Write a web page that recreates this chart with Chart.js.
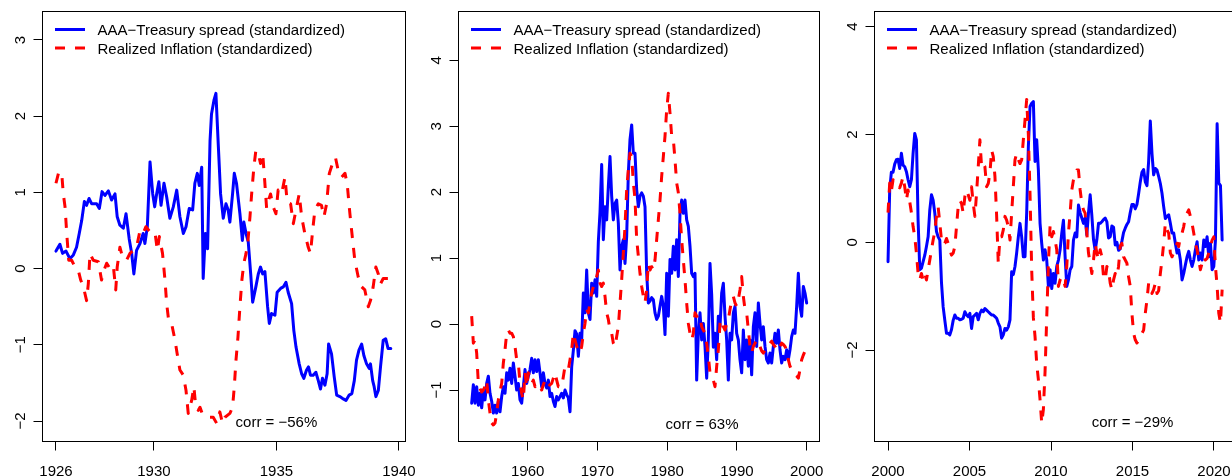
<!DOCTYPE html>
<html>
<head>
<meta charset="utf-8">
<script src="https://cdn.jsdelivr.net/npm/chart.js@4.4.1/dist/chart.umd.min.js"></script>
<style>
  html, body { margin: 0; padding: 0; background: #fff; }
  body { width: 1232px; height: 476px; overflow: hidden; position: relative; }
  canvas { position: absolute; top: 0; }
</style>
</head>
<body>
<canvas id="p1" width="415" height="476" style="left:0px"></canvas>
<canvas id="p2" width="410" height="476" style="left:415px"></canvas>
<canvas id="p3" width="420" height="476" style="left:825px"></canvas>
<script>
// ===================== DATA =====================
const legendLabels = ["AAA\u2212Treasury spread (standardized)", "Realized Inflation (standardized)"];

// ---- 1926–1939 ----
const spreadYears1 = [
  1926.00,1926.16,1926.27,1926.41,1926.57,1926.71,1926.84,1926.95,1927.05,1927.16,
  1927.25,1927.35,1927.46,1927.66,1927.77,1927.88,1928.00,1928.14,1928.27,1928.41,
  1928.50,1928.61,1928.75,1928.86,1928.99,1929.09,1929.18,1929.29,1929.43,1929.56,
  1929.63,1929.73,1929.84,1929.95,1930.03,1930.11,1930.20,1930.29,1930.41,1930.52,
  1930.65,1930.79,1930.93,1931.06,1931.20,1931.31,1931.44,1931.58,1931.67,1931.77,
  1931.85,1931.95,1932.01,1932.10,1932.19,1932.29,1932.35,1932.45,1932.53,1932.63,
  1932.72,1932.83,1932.94,1933.03,1933.10,1933.21,1933.28,1933.37,1933.51,1933.61,
  1933.67,1933.76,1933.85,1933.95,1934.03,1934.16,1934.26,1934.35,1934.44,1934.53,
  1934.64,1934.71,1934.80,1934.94,1935.03,1935.17,1935.28,1935.39,1935.48,1935.62,
  1935.71,1935.80,1935.93,1936.03,1936.12,1936.23,1936.31,1936.39,1936.50,1936.61,
  1936.71,1936.80,1936.88,1936.98,1937.07,1937.13,1937.25,1937.36,1937.46,1937.59,
  1937.73,1937.84,1937.97,1938.08,1938.18,1938.27,1938.37,1938.48,1938.57,1938.68,
  1938.79,1938.84,1938.93,1938.99,1939.06,1939.16,1939.25,1939.36,1939.46,1939.56,
  1939.67
];
const spread1 = [
  0.23,0.32,0.20,0.23,0.13,0.18,0.28,0.46,0.63,0.88,
  0.83,0.92,0.85,0.85,0.79,1.01,0.96,1.02,0.90,0.98,
  0.68,0.57,0.53,0.72,0.39,0.20,-0.07,0.24,0.33,0.46,
  0.33,0.55,1.40,0.98,0.81,0.98,1.14,0.83,1.12,0.94,
  0.66,0.81,1.03,0.68,0.46,0.55,0.79,0.77,1.12,1.25,
  1.09,1.33,-0.13,0.46,0.26,1.68,2.03,2.21,2.30,1.60,
  0.98,0.66,0.85,0.77,0.61,0.98,1.25,1.12,0.72,0.37,
  0.61,0.46,0.35,-0.07,-0.44,-0.24,-0.07,0.02,-0.07,-0.04,
  -0.50,-0.72,-0.59,-0.61,-0.31,-0.26,-0.24,-0.18,-0.31,-0.46,
  -0.81,-1.03,-1.25,-1.38,-1.44,-1.33,-1.29,-1.40,-1.40,-1.36,
  -1.47,-1.58,-1.44,-1.53,-1.38,-0.99,-1.12,-1.42,-1.66,-1.68,
  -1.71,-1.73,-1.66,-1.64,-1.47,-1.20,-1.07,-0.99,-1.14,-1.25,
  -1.31,-1.25,-1.47,-1.55,-1.68,-1.60,-1.29,-0.94,-0.92,-1.05,
  -1.05
];
const inflYears1 = [
  1926.00,1926.10,1926.23,1926.30,1926.37,1926.44,1926.52,1926.64,1926.78,1926.91,
  1927.01,1927.12,1927.25,1927.32,1927.39,1927.52,1927.73,1927.86,1927.96,1928.07,
  1928.20,1928.34,1928.44,1928.50,1928.61,1928.72,1928.88,1929.02,1929.16,1929.29,
  1929.43,1929.56,1929.67,1929.84,1930.04,1930.14,1930.22,1930.35,1930.45,1930.52,
  1930.60,1930.72,1930.86,1930.95,1931.06,1931.20,1931.31,1931.40,1931.54,1931.63,
  1931.71,1931.81,1931.88,1931.97,1932.08,1932.22,1932.42,1932.56,1932.69,1932.80,
  1932.90,1933.10,1933.21,1933.28,1933.35,1933.43,1933.51,1933.59,1933.67,1933.76,
  1933.84,1933.92,1934.00,1934.08,1934.16,1934.26,1934.35,1934.44,1934.52,1934.60,
  1934.68,1934.76,1934.87,1934.98,1935.07,1935.21,1935.35,1935.44,1935.58,1935.69,
  1935.80,1935.93,1936.03,1936.16,1936.30,1936.39,1936.48,1936.57,1936.71,1936.84,
  1936.94,1937.05,1937.16,1937.29,1937.41,1937.52,1937.66,1937.80,1937.89,1938.00,
  1938.10,1938.20,1938.34,1938.48,1938.61,1938.75,1938.84,1938.95,1939.06,1939.16,
  1939.25,1939.36,1939.50,1939.67
];
const infl1 = [
  1.12,1.25,1.27,0.98,0.81,0.46,0.11,0.11,0.02,-0.02,
  -0.15,-0.24,-0.42,-0.20,0.20,0.11,0.09,-0.15,-0.02,0.07,
  0.00,0.04,-0.28,0.02,0.28,0.15,0.11,0.20,0.24,0.28,
  0.50,0.46,0.55,0.48,0.48,0.24,0.42,0.20,-0.15,-0.46,
  -0.68,-0.72,-0.94,-1.12,-1.33,-1.40,-1.60,-1.90,-1.73,-1.55,
  -1.82,-1.86,-1.82,-1.90,-1.93,-1.95,-1.95,-2.03,-1.88,-2.03,
  -1.95,-1.90,-1.82,-1.55,-1.20,-0.90,-0.50,-0.15,0.07,0.20,
  0.37,0.68,1.03,1.33,1.55,1.51,1.38,1.51,1.16,0.79,
  0.90,0.98,0.81,0.72,1.03,0.98,1.20,0.87,0.85,0.59,
  0.77,0.98,0.68,0.46,0.28,0.20,0.50,0.77,0.85,0.83,
  0.68,0.85,1.25,1.38,1.46,1.29,1.20,1.25,1.11,0.72,
  0.41,0.11,-0.11,-0.24,-0.28,-0.50,-0.42,-0.24,0.02,-0.07,
  -0.20,-0.13,-0.13,-0.13
];

// ---- 1952–2000 (evenly spaced readings) ----
const span2 = [1951.97, 2000.0];
const spread2 = [
  -1.20,-0.92,-1.20,-0.95,-1.23,-1.05,-1.27,-1.00,-1.15,-0.90,
  -0.79,-1.05,-1.17,-1.35,-1.23,-1.35,-1.17,-1.33,-1.10,-0.95,
  -1.05,-0.74,-0.85,-0.67,-0.90,-0.59,-0.79,-1.00,-0.90,-1.15,
  -1.20,-0.95,-0.69,-0.90,-0.79,-0.69,-0.52,-0.74,-0.54,-0.72,
  -0.54,-0.74,-0.95,-0.74,-0.90,-0.97,-0.85,-1.10,-1.05,-1.17,
  -1.25,-1.10,-1.15,-1.10,-1.05,-1.12,-1.00,-1.07,-1.12,-1.33,
  -0.65,-0.40,-0.10,-0.15,-0.49,-0.14,-0.24,0.47,0.17,0.82,
  0.17,0.07,0.62,0.47,0.67,0.42,1.25,1.70,2.42,1.28,
  1.78,1.58,2.09,2.54,1.94,1.58,1.83,1.88,1.53,0.82,
  1.18,1.28,0.92,1.33,2.29,2.80,3.02,2.59,
  2.59,2.04,1.78,1.94,1.99,1.94,1.78,0.77,0.32,0.35,
  0.40,0.37,0.17,0.07,0.12,0.27,0.42,0.27,-0.16,0.77,
  0.12,0.98,0.77,1.18,0.82,1.28,0.72,1.68,1.88,1.68,
  1.88,1.58,1.48,1.18,0.77,0.72,0.77,-0.85,-0.14,0.17,
  -0.24,0.01,-0.34,-0.82,-0.24,0.92,0.45,-0.35,-0.14,-0.54,
  0.12,-0.04,0.47,0.62,0.12,-0.24,-0.85,-0.14,-0.24,0.17,
  0.27,-0.14,-0.24,-0.54,-0.74,-0.09,-0.54,-0.24,-0.64,-0.24,
  -0.77,-0.04,0.17,-0.34,0.32,0.01,-0.24,-0.04,-0.34,-0.54,
  -0.59,-0.44,-0.59,-0.34,-0.14,-0.29,-0.09,-0.39,-0.59,-0.49,
  -0.54,-0.39,-0.54,-0.39,-0.19,-0.09,-0.14,0.27,0.77,0.27,
  0.12,0.57,0.47,0.32
];
const infl2 = [
  0.12,-0.29,-0.24,-0.44,-0.90,-0.98,-1.03,-1.00,-0.95,-0.85,
  -1.15,-1.35,-1.50,-1.53,-1.50,-1.35,-1.15,-1.02,-0.90,-0.59,
  -0.39,-0.14,-0.09,-0.14,-0.14,-0.19,-0.34,-0.54,-0.59,-0.90,
  -1.05,-1.15,-0.74,-0.95,-0.74,-0.79,-0.90,-0.85,-0.95,-0.92,
  -0.90,-0.95,-1.00,-0.92,-0.85,-0.90,-0.95,-0.92,-0.90,-0.82,
  -0.74,-0.85,-0.95,-0.95,-0.95,-0.80,-0.64,-0.66,-0.69,-0.54,
  -0.39,-0.14,-0.24,-0.34,-0.39,-0.44,-0.34,-0.14,0.01,0.22,
  0.17,0.32,0.47,0.57,0.62,0.72,0.82,0.62,0.57,0.62,
  0.42,0.17,0.07,-0.09,-0.14,-0.29,-0.34,-0.19,-0.04,0.32,
  0.67,1.08,1.48,2.04,2.34,2.59,2.54,2.14,
  1.90,1.28,1.03,0.77,0.57,0.42,0.32,0.52,0.92,0.82,
  0.87,0.82,0.97,1.28,1.58,1.88,2.24,2.54,2.85,3.25,
  3.50,3.20,2.85,2.80,2.49,2.14,1.99,1.68,1.28,0.97,
  0.67,0.32,0.01,-0.14,-0.24,-0.14,0.17,0.12,0.07,0.10,
  -0.04,-0.09,-0.14,-0.29,-0.49,-0.74,-0.79,-0.85,-0.95,-0.64,
  -0.39,0.01,0.07,-0.04,-0.09,0.01,0.07,0.22,0.37,0.42,
  0.32,0.27,0.37,0.52,0.72,0.42,0.22,0.17,-0.09,-0.34,
  -0.44,-0.34,-0.29,-0.24,-0.26,-0.34,-0.41,-0.44,-0.39,-0.34,
  -0.34,-0.29,-0.26,-0.31,-0.34,-0.39,-0.41,-0.34,-0.29,-0.31,
  -0.34,-0.39,-0.54,-0.64,-0.69,-0.74,-0.77,-0.79,-0.82,-0.69,
  -0.54,-0.47,-0.41,-0.39
];

// ---- 2000–2020 (evenly spaced readings) ----
const span3 = [2000.0, 2020.5];
const spread3 = [
  -0.36,0.97,1.30,1.30,1.45,1.53,1.54,1.37,1.65,1.43,
  1.40,1.31,1.16,1.03,1.16,1.65,2.02,1.90,0.41,-0.51,
  -0.48,-0.36,-0.24,-0.08,0.10,0.60,0.88,0.78,0.54,0.20,
  0.10,0.04,-0.75,-1.20,-1.45,-1.69,-1.69,-1.72,-1.62,-1.45,
  -1.35,-1.41,-1.41,-1.44,-1.43,-1.41,-1.29,-1.35,-1.38,-1.32,
  -1.60,-1.38,-1.35,-1.32,-1.44,-1.32,-1.26,-1.29,-1.23,-1.26,
  -1.29,-1.32,-1.35,-1.35,-1.38,-1.41,-1.50,-1.57,-1.78,-1.72,
  -1.60,-1.63,-1.57,-1.44,-0.55,-0.60,-0.45,-0.20,0.10,0.35,
  0.10,-0.27,-0.27,0.54,1.77,2.52,2.58,2.61,1.50,1.90,
  1.34,0.35,-0.02,-0.33,
  -0.14,-0.33,-0.82,-0.51,-0.86,-0.58,-0.76,-0.45,-0.33,-0.14,
  0.17,0.41,-0.27,-0.82,-0.70,-0.51,-0.45,0.04,0.17,0.10,
  0.69,0.55,0.45,0.35,0.45,0.13,0.55,0.88,0.50,0.05,
  -0.15,0.05,0.35,0.35,0.38,0.42,0.45,0.38,0.08,0.10,
  0.30,0.28,-0.05,0.00,-0.15,-0.12,0.02,0.18,0.26,0.33,
  0.38,0.55,0.70,0.70,0.62,0.70,0.90,1.12,1.30,1.35,
  1.12,1.05,1.50,2.25,1.65,1.25,1.37,1.34,1.22,1.09,
  0.91,0.66,0.44,0.48,0.51,0.35,0.17,0.17,-0.02,-0.20,
  -0.14,-0.33,-0.70,-0.58,-0.42,-0.27,-0.17,-0.33,-0.45,-0.33,
  -0.14,0.01,-0.33,-0.20,-0.33,0.04,-0.08,0.10,-0.27,-0.02,
  -0.51,-0.45,0.04,2.20,1.10,1.05,0.04
];
const infl3 = [
  0.55,1.10,0.95,1.16,1.05,1.03,1.03,1.01,1.10,1.22,
  1.03,0.78,0.97,0.75,0.55,0.29,0.10,-0.20,-0.58,-0.70,
  -0.58,-0.70,-0.58,-0.70,-0.51,-0.33,-0.14,0.04,0.20,0.48,
  0.66,0.35,0.04,-0.05,-0.02,0.07,-0.02,-0.14,-0.24,-0.20,
  -0.08,0.29,0.66,0.78,0.72,0.54,0.85,0.97,0.88,0.78,
  1.03,0.72,0.48,0.91,1.40,1.90,1.40,1.46,1.40,1.03,
  1.09,1.28,1.71,1.59,1.22,0.50,-0.40,0.10,0.10,0.23,
  0.48,0.41,0.29,0.04,0.54,1.03,1.53,1.65,1.53,1.46,
  1.53,1.90,2.27,2.65,2.00,0.90,-0.51,-1.40,-1.75,-2.25,
  -2.55,-2.92,-3.36,-3.10,
  -2.40,-1.40,-0.40,0.30,0.10,0.20,0.04,-0.14,-0.82,-0.70,
  -0.64,-0.70,-0.82,-0.45,0.17,0.54,0.97,1.16,1.28,1.34,
  1.34,0.97,0.72,0.60,0.54,0.17,-0.20,-0.39,-0.58,-0.33,
  -0.02,-0.20,-0.33,-0.14,-0.27,-0.64,-0.70,-0.45,-0.51,-0.76,
  -0.88,-0.70,-0.58,-0.64,-0.45,-0.08,-0.02,-0.27,-0.33,-0.39,
  -0.64,-0.82,-1.32,-1.69,-1.81,-1.87,-1.81,-1.75,-1.69,-1.63,
  -1.32,-1.07,-0.76,-0.82,-0.95,-0.88,-0.76,-0.95,-0.90,-0.58,
  -0.33,-0.02,0.35,0.23,0.17,-0.20,-0.27,-0.20,-0.14,-0.02,
  -0.08,0.10,0.17,0.29,0.48,0.54,0.60,0.48,0.35,0.17,
  -0.02,-0.14,-0.33,-0.51,-0.39,-0.27,-0.33,-0.30,-0.20,-0.08,
  0.04,0.10,-0.45,-0.82,-1.32,-1.50,-0.88
];

// ---- axis ticks and annotations ----
const xTicks1 = [1926, 1930, 1935, 1940];
const xTicks2 = [1960, 1970, 1980, 1990, 2000];
const xTicks3 = [2000, 2005, 2010, 2015, 2020];
const yTicks1 = [-2, -1, 0, 1, 2, 3];
const yTicks2 = [-1, 0, 1, 2, 3, 4];
const yTicks3 = [-2, 0, 2, 4];
const corrLabels = ["corr = \u221256%", "corr = 63%", "corr = \u221229%"];
const corrYears = [1935, 1985, 2015];

// ===================== HELPERS =====================
const FONT = '"Liberation Sans", Arial, Helvetica, sans-serif';
const BLUE = "#0000ff", RED = "#ff0000";
const DASH = [10, 10];

const pts = (xs, ys) => ys.map((y, i) => ({ x: xs[i], y }));
const sampleDates = (span, n) => Array.from({ length: n }, (_, i) => span[0] + (span[1] - span[0]) * i / (n - 1));
const fmt = v => (v < 0 ? "\u2212" + Math.abs(v) : String(v));

// box, rotated y labels, legend and corr note (base-graphics look)
const framePlugin = {
  id: "frame",
  afterDraw(chart, args, o) {
    const { ctx, chartArea: a, scales: { x, y } } = chart;
    ctx.save();
    ctx.strokeStyle = "#000";
    ctx.lineWidth = 1;
    ctx.strokeRect(a.left, a.top, a.right - a.left, a.bottom - a.top);

    ctx.fillStyle = "#000";
    ctx.font = `15px ${FONT}`;
    o.yTicks.forEach(v => {
      ctx.save();
      ctx.translate(a.left - 17.5, y.getPixelForValue(v));
      ctx.rotate(-Math.PI / 2);
      ctx.textAlign = "center";
      ctx.textBaseline = "alphabetic";
      ctx.fillText(fmt(v), 0, 0);
      ctx.restore();
    });

    // legend
    const keys = [{ color: BLUE, dash: [] }, { color: RED, dash: DASH }];
    legendLabels.forEach((t, i) => {
      const ly = a.top + 18 + i * 18.5;
      ctx.beginPath();
      ctx.setLineDash(keys[i].dash);
      ctx.lineWidth = 3;
      ctx.lineCap = "butt";
      ctx.strokeStyle = keys[i].color;
      ctx.moveTo(a.left + 12.5, ly);
      ctx.lineTo(a.left + 42.5, ly);
      ctx.stroke();
      ctx.setLineDash([]);
      ctx.textAlign = "left";
      ctx.textBaseline = "alphabetic";
      ctx.fillText(t, a.left + 55, ly + 5.5);
    });

    // correlation note sits at the lowest value of the panel
    ctx.textAlign = "center";
    ctx.textBaseline = "middle";
    ctx.fillText(o.corr, x.getPixelForValue(o.corrX), y.getPixelForValue(o.corrY));
    ctx.restore();
  }
};

function makePanel(id, p) {
  return new Chart(document.getElementById(id), {
    type: "line",
    data: {
      datasets: [
        { data: p.spread, borderColor: BLUE, borderWidth: 3, pointRadius: 0, tension: 0,
          borderJoinStyle: "round", borderCapStyle: "round", order: 1 },
        { data: p.infl, borderColor: RED, borderWidth: 3, pointRadius: 0, tension: 0,
          borderDash: DASH, borderJoinStyle: "round", borderCapStyle: "butt", order: 0 }
      ]
    },
    options: {
      responsive: false, animation: false, devicePixelRatio: 1, events: [],
      layout: { padding: { left: 0, top: 11.5, right: p.padRight, bottom: 0 } },
      plugins: {
        legend: { display: false }, tooltip: { enabled: false },
        frame: { yTicks: p.yTicks, corr: p.corr, corrX: p.corrX, corrY: p.corrY }
      },
      scales: {
        x: {
          type: "linear", min: p.xMin, max: p.xMax,
          afterBuildTicks: s => { s.ticks = p.xTicks.map(v => ({ value: v })); },
          afterFit: s => { s.height = 34.5; s.paddingLeft = 0; s.paddingRight = 0; },
          grid: { drawOnChartArea: false, drawTicks: true, tickLength: 9, color: "#000", lineWidth: 1 },
          border: { display: false },
          ticks: { color: "#000", font: { family: FONT, size: 15 }, padding: 12,
                   maxRotation: 0, autoSkip: false, callback: v => String(v) }
        },
        y: {
          type: "linear", min: p.yMin, max: p.yMax,
          afterBuildTicks: s => { s.ticks = p.yTicks.map(v => ({ value: v })); },
          afterFit: s => { s.width = p.left; s.paddingTop = 0; s.paddingBottom = 0; },
          grid: { drawOnChartArea: false, drawTicks: true, tickLength: 9, color: "#000", lineWidth: 1 },
          border: { display: false },
          ticks: { display: false }
        }
      }
    },
    plugins: [framePlugin]
  });
}

// ===================== PANELS =====================
const dates2 = sampleDates(span2, spread2.length);
const dates3 = sampleDates(span3, spread3.length);

makePanel("p1", {
  spread: pts(spreadYears1, spread1), infl: pts(inflYears1, infl1),
  xMin: 1925.45, xMax: 1940.27, yMin: -2.269, yMax: 3.374,
  xTicks: xTicks1, yTicks: yTicks1, left: 42.5, padRight: 9.5,
  corr: corrLabels[0], corrX: corrYears[0], corrY: Math.min(...spread1, ...infl1)
});
makePanel("p2", {
  spread: pts(dates2, spread2), infl: pts(dates2, infl2),
  xMin: 1950.08, xMax: 2001.84, yMin: -1.781, yMax: 4.740,
  xTicks: xTicks2, yTicks: yTicks2, left: 43.5, padRight: 5.5,
  corr: corrLabels[1], corrX: corrYears[1], corrY: Math.min(...spread2, ...infl2)
});
makePanel("p3", {
  spread: pts(dates3, spread3), infl: pts(dates3, infl3),
  xMin: 1999.17, xMax: 2021.32, yMin: -3.698, yMax: 4.282,
  xTicks: xTicks3, yTicks: yTicks3, left: 49.5, padRight: 9.5,
  corr: corrLabels[2], corrX: corrYears[2], corrY: Math.min(...spread3, ...infl3)
});
</script>
</body>
</html>
